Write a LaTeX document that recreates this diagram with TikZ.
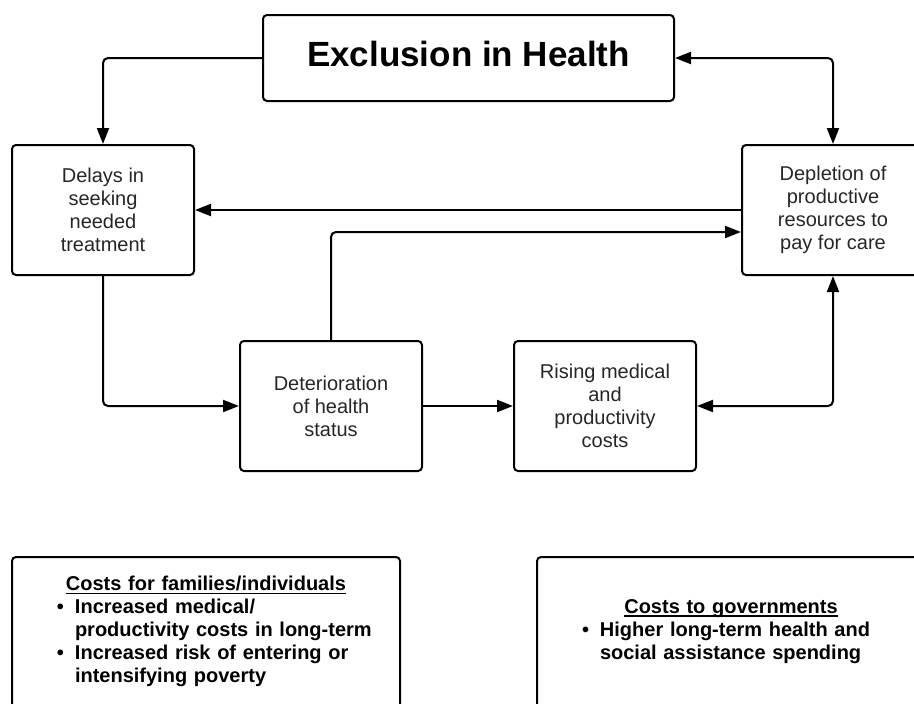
\documentclass[tikz,border=0pt]{standalone}
\usepackage{fontspec}
\setmainfont{Liberation Sans}
\usetikzlibrary{arrows.meta}

\newcommand{\ulhead}[1]{\setbox0\hbox{#1}\rlap{\rule[-3pt]{\wd0}{1.2pt}}\box0}

\tikzset{
	box/.style={draw, line width=2pt, rounded corners=4pt, minimum width=182pt, minimum height=130pt,
		inner sep=0pt, align=center, text=black!85, font=\fontsize{20}{23}\selectfont},
	costbox/.style={draw, line width=2pt, rounded corners=4pt, minimum height=152pt, text width=388pt,
		inner sep=0pt, font=\fontsize{20}{23}\selectfont\bfseries},
	link/.style={line width=2pt, rounded corners=5pt, -{Triangle[length=16pt,width=12pt]}},
	twolink/.style={link, {Triangle[length=16pt,width=12pt]}-{Triangle[length=16pt,width=12pt]}}
}

\begin{document}
\begin{tikzpicture}[x=1pt,y=-1pt]

		\useasboundingbox (0,0) rectangle (914,704);

		\node[draw, line width=2pt, rounded corners=4pt, minimum width=411pt, minimum height=86pt,
			inner sep=0pt, font=\fontsize{35}{40}\selectfont\bfseries] (title) at (468.5,58)
			{Exclusion in Health\rule[-9pt]{0pt}{9pt}};

		\node[box] (delays) at (103,210) {Delays in\\seeking\\needed\\treatment};
		\node[box] (deplete) at (833,210) {Depletion of\\productive\\resources to\\pay for care};
		\node[box] (deter) at (331,406) {Deterioration\\of health\\status};
		\node[box] (rising) at (605,406) {Rising medical\\and\\productivity\\costs};

		\node[costbox] (famcost) at (206,633) {%
			{\centering\ulhead{Costs for families/individuals}\par}
			\noindent\hspace*{45pt}\begin{tabular}[t]{@{}l@{\hspace{11pt}}l@{}}
				\textbullet & Increased medical/\\
				 & productivity costs in long-term\\
				\textbullet & Increased risk of entering or\\
				 & intensifying poverty
			\end{tabular}};
		\node[costbox] (govcost) at (731,633) {%
			{\centering\ulhead{Costs to governments}\par}
			\noindent\hspace*{45pt}\begin{tabular}[t]{@{}l@{\hspace{11pt}}l@{}}
				\textbullet & Higher long-term health and\\
				 & social assistance spending
			\end{tabular}};

		\draw[link] (title.west) -| (delays.north);
		\draw[twolink] (title.east) -| (deplete.north);
		\draw[link] (deplete.west) -- (delays.east);
		\draw[link] (deter.north) |- ([yshift=-22pt]deplete.west);
		\draw[link] (delays.south) |- (deter.west);
		\draw[link] (deter.east) -- (rising.west);
		\draw[twolink] (rising.east) -| (deplete.south);

\end{tikzpicture}
\end{document}
